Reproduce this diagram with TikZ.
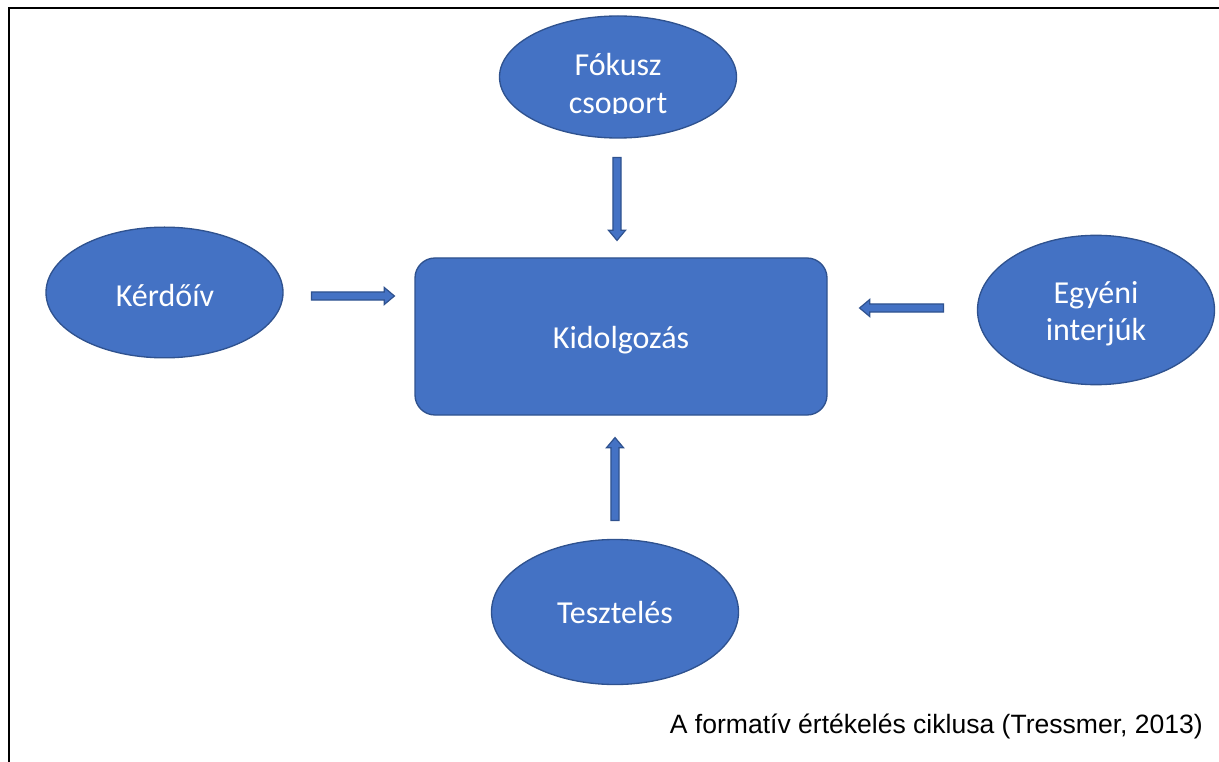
\documentclass[tikz,border=0pt]{standalone}
\usepackage{fontspec}
\setmainfont{Carlito}
\newfontfamily\capfont{Liberation Sans}
\usetikzlibrary{shapes.geometric,shapes.arrows}
\definecolor{fillblue}{HTML}{4472C4}
\definecolor{edgeblue}{HTML}{2F528F}
\begin{document}
\begin{tikzpicture}[x=0.75pt,y=-0.75pt,
  shapetext/.style={text=white,font=\fontsize{24}{28}\selectfont,align=center,inner sep=0pt},
  shapebox/.style={fill=fillblue,draw=edgeblue,line width=1pt,inner sep=0pt},
  oval/.style={shapebox,ellipse},
  blockarrow/.style={single arrow,fill=fillblue,draw=edgeblue,line width=0.9pt,
    inner xsep=0pt,inner ysep=2.6pt,single arrow head extend=3.4pt,
    single arrow tip angle=80,minimum width=0pt,allow upside down}]
\useasboundingbox (0,0) rectangle (1219,762);
% frame
\draw[line width=1.5pt] (1219,8) -- (9,8) -- (9,762);
% shapes
\node[oval,minimum width=177.75pt,minimum height=91.5pt] (foc) at (618,77) {};
\begin{scope}
  \clip (480,10) rectangle (760,114);
  \node[shapetext] (focT) at (618,86) {Fókusz\\csoport};
\end{scope}
\node[oval,minimum width=177.75pt,minimum height=98pt] (kerd) at (164.5,292.5) {};
\node[shapetext] (kerdT) at (165,296) {Kérdőív};
\node[oval,minimum width=177.75pt,minimum height=112pt] (egy) at (1096,310) {};
\node[shapetext] (egyT) at (1096,314) {Egyéni\\interjúk};
\node[oval,minimum width=185.25pt,minimum height=108.75pt] (teszt) at (615,612) {};
\node[shapetext] (tesztT) at (615,613) {Tesztelés};
\node[shapebox,rounded corners=15pt,minimum width=309pt,minimum height=117.75pt] (kid) at (621,336.5) {};
\node[shapetext] (kidT) at (621,340) {Kidolgozás};
% arrows
\coordinate (aTs) at (617,155); \coordinate (aTe) at (617,238);
\coordinate (aLs) at (309,296); \coordinate (aLe) at (392,296);
\coordinate (aRs) at (946,308); \coordinate (aRe) at (862,308);
\coordinate (aBs) at (615,523); \coordinate (aBe) at (615,440);
\path (aTs) -- (aTe) node[midway,sloped,blockarrow,minimum height=62.25pt] (arrT) {};
\path (aLs) -- (aLe) node[midway,sloped,blockarrow,minimum height=62.25pt] (arrL) {};
\path (aRs) -- (aRe) node[midway,sloped,blockarrow,minimum height=63pt] (arrR) {};
\path (aBs) -- (aBe) node[midway,sloped,blockarrow,minimum height=62.25pt] (arrB) {};
% caption
\node[font=\capfont\fontsize{19.9}{23}\selectfont,anchor=base east,inner sep=0pt] (cap) at (1203,733) {A formatív értékelés ciklusa (Tressmer, 2013)};
\end{tikzpicture}
\end{document}
